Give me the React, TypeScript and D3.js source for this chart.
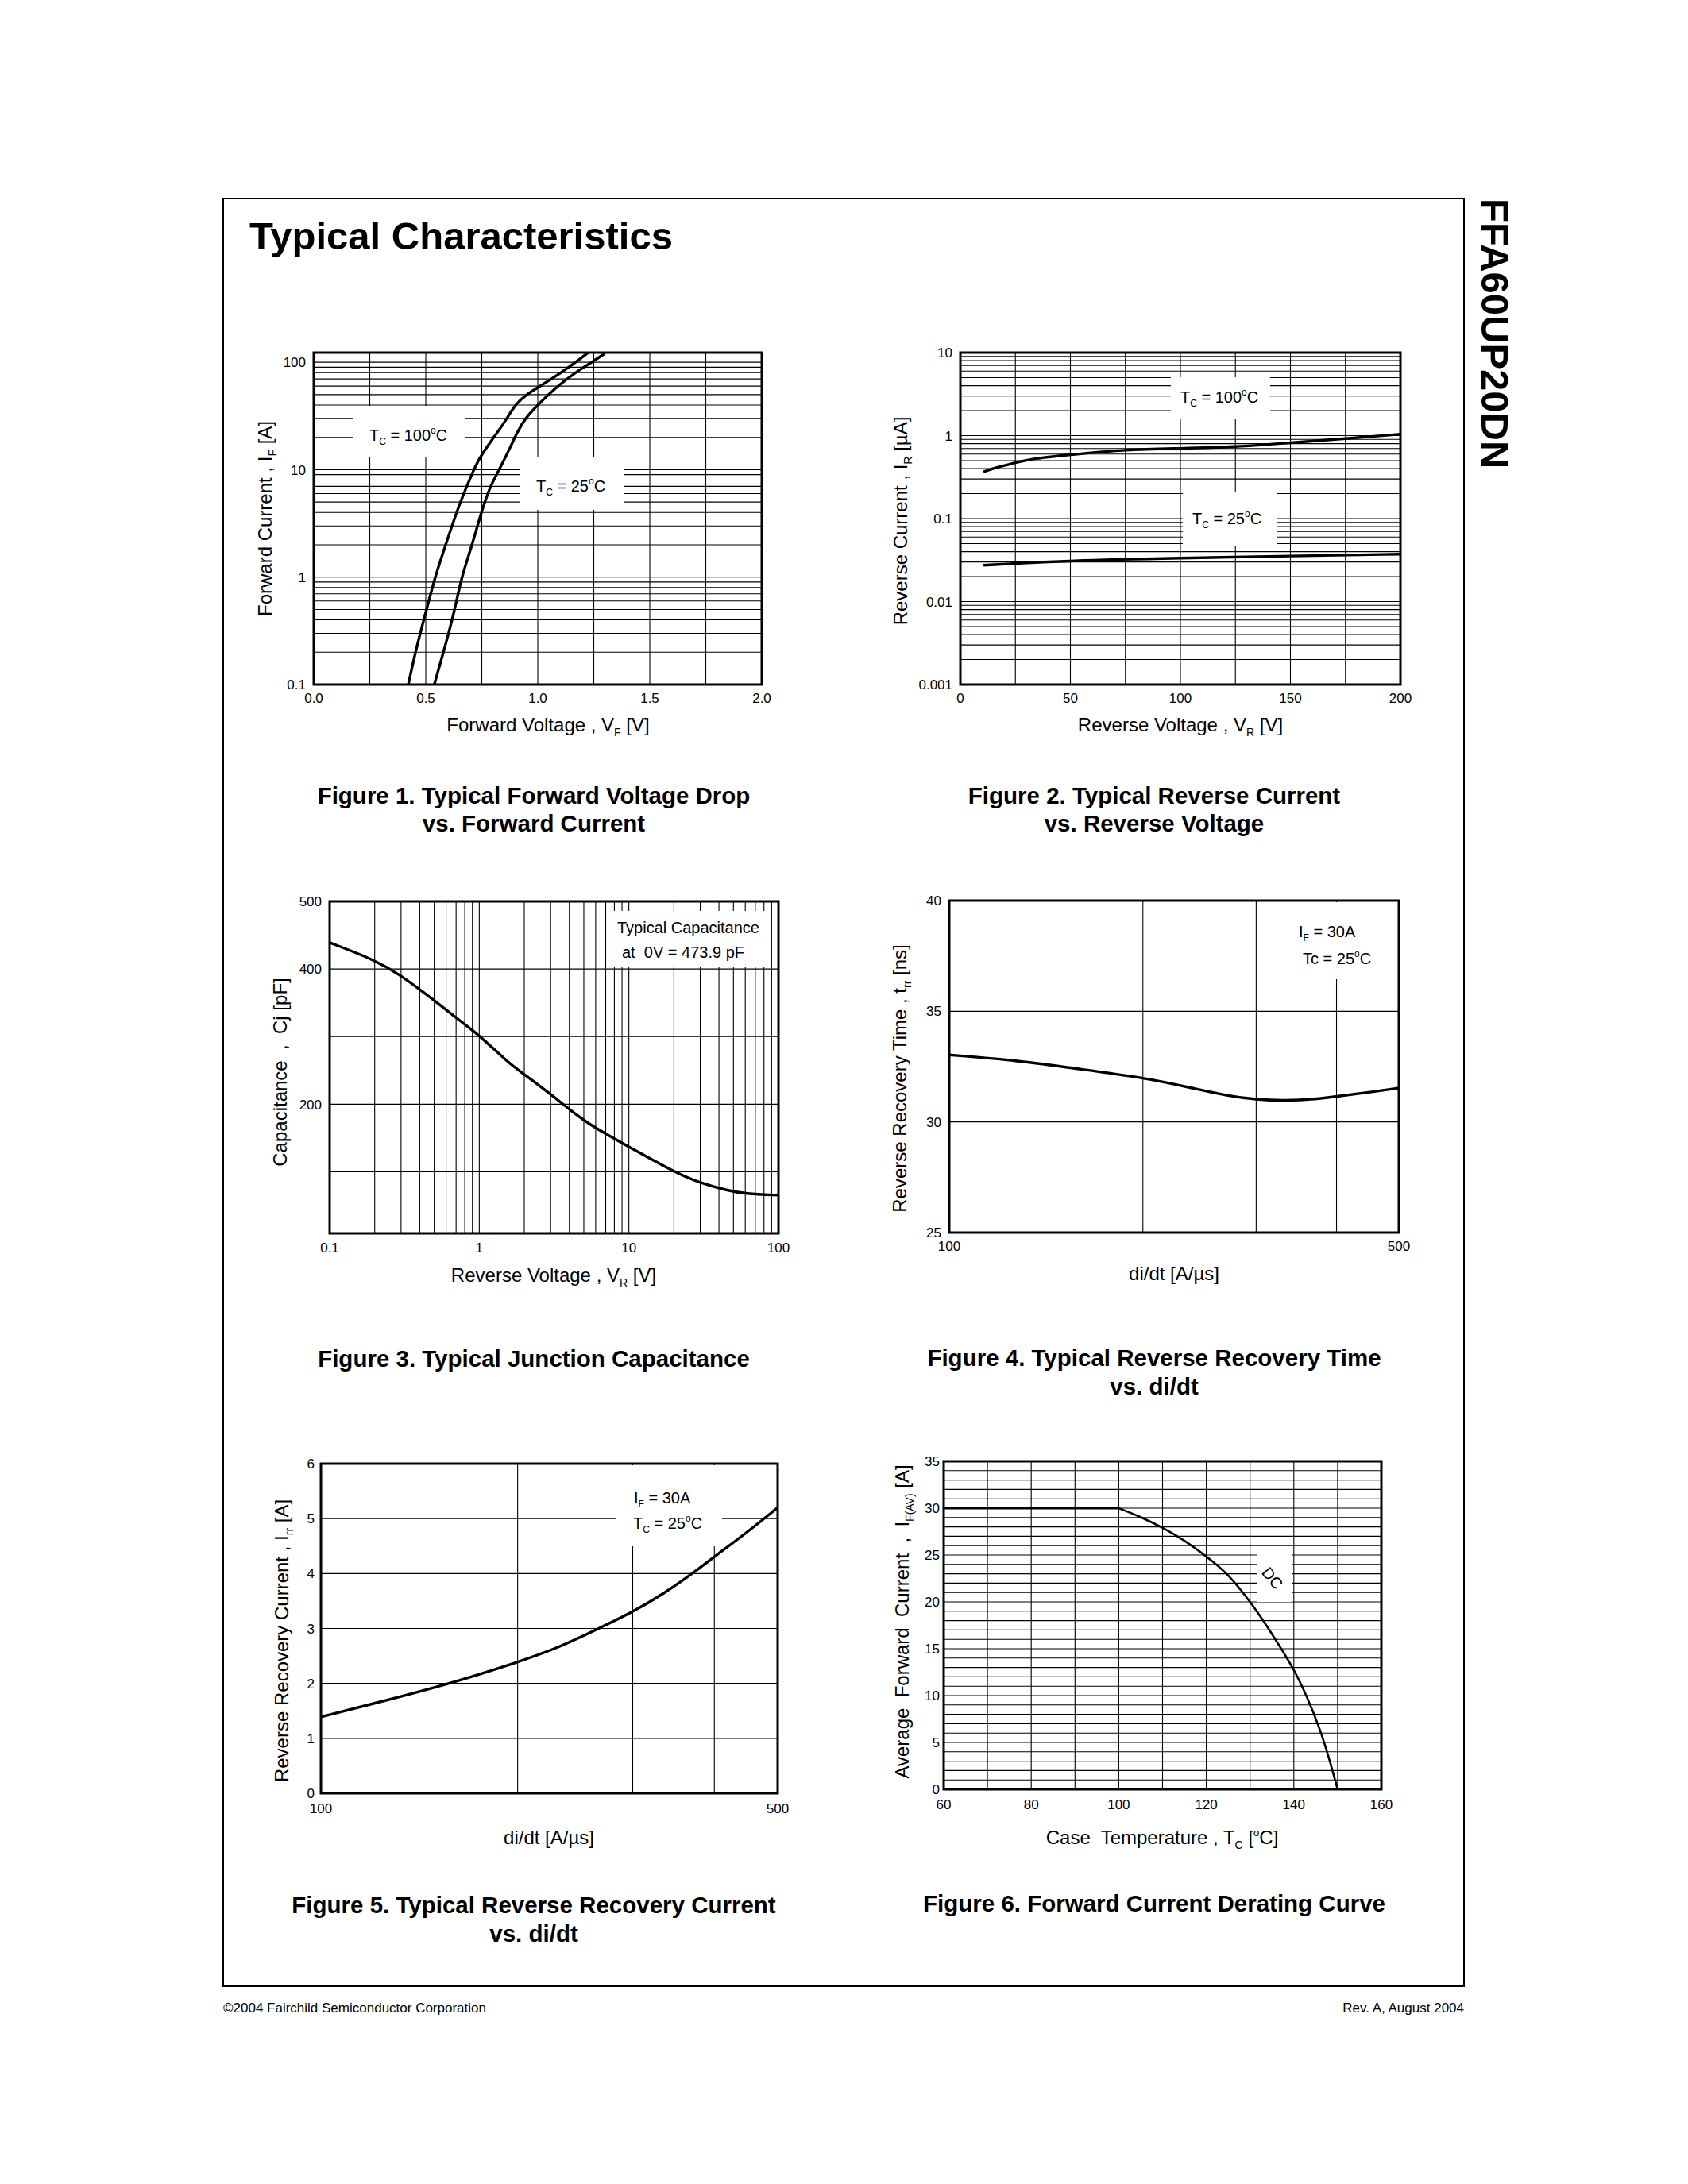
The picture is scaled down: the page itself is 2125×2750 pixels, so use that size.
import React from 'react';
import * as d3 from 'd3';

const FONT = "'Liberation Sans', Arial, Helvetica, sans-serif";

// ---------- Figure 1: forward voltage vs forward current ----------
const fig1XTicks = [0, 0.5, 1.0, 1.5, 2.0];
const fig1XTickLabels = ['0.0', '0.5', '1.0', '1.5', '2.0'];
const fig1XGrid = [0.25, 0.5, 0.75, 1.0, 1.25, 1.5, 1.75];
const fig1YTicks = [0.1, 1, 10, 100];
const fig1YTickLabels = ['0.1', '1', '10', '100'];
const fig1Tc100: [number, number][] = [
  [0.422, 0.1], [0.454, 0.204], [0.501, 0.477], [0.541, 1.0], [0.588, 1.98], [0.643, 4.39],
  [0.699, 8.43], [0.738, 12.9], [0.802, 19.8], [0.865, 30.3], [0.896, 39.8], [0.952, 50.6],
  [1.001, 58.2], [1.102, 79.6], [1.173, 101], [1.225, 123],
];
const fig1Tc25: [number, number][] = [
  [0.538, 0.1], [0.58, 0.204], [0.628, 0.477], [0.659, 1.0], [0.707, 1.98], [0.746, 3.92],
  [0.786, 6.92], [0.825, 9.73], [0.881, 16.7], [0.904, 21.5], [0.944, 30.3], [1.001, 40.3],
  [1.086, 59.8], [1.165, 79.6], [1.244, 101], [1.3, 121],
];

// ---------- Figure 2: reverse current vs reverse voltage ----------
const fig2XTicks = [0, 50, 100, 150, 200];
const fig2XGrid = [25, 50, 75, 100, 125, 150, 175];
const fig2YTicks = [0.001, 0.01, 0.1, 1, 10];
const fig2YTickLabels = ['0.001', '0.01', '0.1', '1', '10'];
const fig2Tc100: [number, number][] = [
  [10.5, 0.367], [16.9, 0.417], [25, 0.472], [33, 0.53], [50, 0.59], [75, 0.68],
  [100, 0.7], [125, 0.73], [150, 0.82], [175, 0.92], [200, 1.04],
];
const fig2Tc25: [number, number][] = [
  [10.5, 0.0274], [50, 0.0313], [100, 0.0334], [150, 0.0355], [200, 0.0373],
];

// ---------- Figure 3: junction capacitance ----------
const fig3XTicks = [0.1, 1, 10, 100];
const fig3XTickLabels = ['0.1', '1', '10', '100'];
const fig3YTicks = [200, 400, 500];
const fig3YGrid = [100, 200, 300, 400];
const fig3Cap: [number, number][] = [
  [0.1, 439], [0.2, 413.7], [0.3, 390.2], [0.395, 370.6], [0.505, 352.9], [0.76, 321.6],
  [1.0, 302], [1.54, 262.7], [1.97, 245.1], [2.97, 215.7], [4.01, 192.2], [5.71, 166.7],
  [10, 137.3], [20, 100], [29.3, 84.3], [45.4, 72.5], [59.6, 67.5], [100, 65.5],
];

// ---------- Figure 4: reverse recovery time vs di/dt ----------
const fig4XTicks = [100, 500];
const fig4XGrid = [200, 300, 400];
const fig4YTicks = [25, 30, 35, 40];
const fig4YGrid = [30, 35];
const fig4Trr: [number, number][] = [
  [100, 33.03], [126.8, 32.79], [155.2, 32.43], [200, 32.01], [238.8, 31.53], [271.2, 31.17],
  [300, 31.01], [332, 30.95], [372.3, 31.03], [400, 31.15], [450, 31.34], [500, 31.53],
];

// ---------- Figure 5: reverse recovery current vs di/dt ----------
const fig5XTicks = [100, 500];
const fig5XGrid = [200, 300, 400];
const fig5YTicks = [0, 1, 2, 3, 4, 5, 6];
const fig5YGrid = [1, 2, 3, 4, 5];
const fig5Irr: [number, number][] = [
  [100, 1.39], [120.1, 1.63], [156.2, 1.98], [200.5, 2.39], [230, 2.64], [267.2, 3.01],
  [300, 3.3], [334.5, 3.63], [374.3, 4.04], [400, 4.31], [445.7, 4.72], [500, 5.2],
];

// ---------- Figure 6: forward current derating ----------
const fig6XTicks = [60, 80, 100, 120, 140, 160];
const fig6XGrid = [70, 80, 90, 100, 110, 120, 130, 140, 150];
const fig6YTicks = [0, 5, 10, 15, 20, 25, 30, 35];
const fig6YGrid = d3.range(1, 35);
const fig6Flat: [number, number][] = [[60, 30], [100, 30]];
const fig6Derate: [number, number][] = [
  [100, 30], [105.1, 29.06], [110, 27.93], [115.2, 26.52], [120.1, 24.82], [125, 22.99],
  [130, 20.02], [133, 18.04], [137, 15.1], [140, 12.8], [142.8, 10.12], [146, 6.45],
  [148.4, 2.77], [150, 0],
];

type Pt = [number, number];

function Panel(props: {
  id: string;
  xs: any;
  ys: any;
  xGrid: number[];
  yGrid: number[];
  xTicks: number[];
  xLabels: string[];
  yTicks: number[];
  yLabels: string[];
  yTickX: number;
  xTickY: number;
  boxes: number[][];
  curves: { data: Pt[]; w: number; kind?: 'linear' | 'basis' | 'mono' }[];
  children?: React.ReactNode;
}) {
  const { id, xs, ys } = props;
  const [x0, x1] = xs.range();
  const [yb, yt] = ys.range();
  const mk = (kind?: string) =>
    d3
      .line<Pt>()
      .x((d) => xs(d[0]))
      .y((d) => ys(d[1]))
      .curve(kind === 'linear' ? d3.curveLinear : kind === 'basis' ? d3.curveBasis : d3.curveMonotoneX);
  return (
    <g>
      <clipPath id={id}>
        <rect x={x0} y={yt} width={x1 - x0} height={yb - yt} />
      </clipPath>
      {props.xGrid.map((v, i) => (
        <line key={'gx' + i} x1={xs(v)} x2={xs(v)} y1={yt} y2={yb} stroke="#000" strokeWidth={1.1} />
      ))}
      {props.yGrid.map((v, i) => (
        <line key={'gy' + i} x1={x0} x2={x1} y1={ys(v)} y2={ys(v)} stroke="#000" strokeWidth={1.1} />
      ))}
      {props.boxes.map((b, i) => (
        <rect key={'b' + i} x={b[0]} y={b[1]} width={b[2] - b[0]} height={b[3] - b[1]} fill="#fff" />
      ))}
      {props.curves.map((c, i) => (
        <path
          key={'c' + i}
          d={mk(c.kind)(c.data) || ''}
          fill="none"
          stroke="#000"
          strokeWidth={c.w}
          strokeLinejoin="round"
          clipPath={`url(#${id})`}
        />
      ))}
      <rect x={x0} y={yt} width={x1 - x0} height={yb - yt} fill="none" stroke="#000" strokeWidth={3} />
      {props.xTicks.map((v, i) => (
        <text key={'tx' + i} x={xs(v)} y={props.xTickY} textAnchor="middle" fontSize={17}>
          {props.xLabels[i]}
        </text>
      ))}
      {props.yTicks.map((v, i) => (
        <text key={'ty' + i} x={props.yTickX} y={ys(v)} dy="0.36em" textAnchor="end" fontSize={17}>
          {props.yLabels[i]}
        </text>
      ))}
      {props.children}
    </g>
  );
}

const Sub = ({ t, size = 14, dy = 6 }: { t: string; size?: number; dy?: number }) => (
  <tspan fontSize={size} dy={dy}>
    {t}
  </tspan>
);

function YTitle({ x, y, children }: { x: number; y: number; children: React.ReactNode }) {
  return (
    <text
      transform={`translate(${x},${y}) rotate(-90)`}
      textAnchor="middle"
      fontSize={24}
      style={{ whiteSpace: 'pre' }}
    >
      {children}
    </text>
  );
}

function XTitle({ x, y, children }: { x: number; y: number; children: React.ReactNode }) {
  return (
    <text x={x} y={y} textAnchor="middle" fontSize={24} style={{ whiteSpace: 'pre' }}>
      {children}
    </text>
  );
}

function Caption({ x, y, lines }: { x: number; y: number[]; lines: string[] }) {
  return (
    <g>
      {lines.map((l, i) => (
        <text key={i} x={x} y={y[i]} textAnchor="middle" fontSize={29.5} fontWeight="bold">
          {l}
        </text>
      ))}
    </g>
  );
}

function TcLabel({ x, y, temp }: { x: number; y: number; temp: string }) {
  return (
    <text x={x} y={y} fontSize={20}>
      T<tspan fontSize={12} dy={5}>C</tspan>
      <tspan dy={-5}>{' = ' + temp}</tspan>
      <tspan fontSize={12} dy={-9}>o</tspan>
      <tspan dy={9}>C</tspan>
    </text>
  );
}

export default function App() {
  // Figure 1
  const x1 = d3.scaleLinear([0, 2], [395, 959]);
  const y1 = d3.scaleLog([0.1, 123], [862, 444]);
  // Figure 2
  const x2 = d3.scaleLinear([0, 200], [1209, 1763]);
  const y2 = d3.scaleLog([0.001, 10], [862, 444]);
  // Figure 3
  const x3 = d3.scaleLog([0.1, 100], [415, 980]);
  const y3 = d3.scaleLinear([9, 500], [1553, 1135]);
  // Figure 4
  const x4 = d3.scaleLog([100, 500], [1195, 1761]);
  const y4 = d3.scaleLinear([25, 40], [1552, 1134]);
  // Figure 5
  const x5 = d3.scaleLog([100, 500], [404, 979]);
  const y5 = d3.scaleLinear([0, 6], [2258, 1843]);
  // Figure 6
  const x6 = d3.scaleLinear([60, 160], [1188, 1739]);
  const y6 = d3.scaleLinear([0, 35], [2253, 1840]);

  return (
    <svg
      width={2125}
      height={2750}
      viewBox="0 0 2125 2750"
      style={{ position: 'absolute', left: 0, top: 0, background: '#fff' }}
      fontFamily={FONT}
    >
      <rect x={0} y={0} width={2125} height={2750} fill="#fff" />
      <rect x={281} y={250} width={1562} height={2251} fill="none" stroke="#000" strokeWidth={2} />
      <text x={314} y={314} fontSize={49} fontWeight="bold">
        Typical Characteristics
      </text>
      <text transform="translate(1865,250) rotate(90)" fontSize={49} fontWeight="bold">
        FFA60UP20DN
      </text>

      {/* Figure 1 */}
      <Panel
        id="c1"
        xs={x1}
        ys={y1}
        xGrid={fig1XGrid}
        yGrid={y1.ticks()}
        xTicks={fig1XTicks}
        xLabels={fig1XTickLabels}
        yTicks={fig1YTicks}
        yLabels={fig1YTickLabels}
        yTickX={385}
        xTickY={885}
        boxes={[
          [445, 511, 585, 575],
          [655, 575, 785, 642],
        ]}
        curves={[
          { data: fig1Tc100, w: 3.4, kind: 'basis' },
          { data: fig1Tc25, w: 3.4, kind: 'basis' },
        ]}
      >
        <TcLabel x={465} y={555} temp="100" />
        <TcLabel x={675} y={619} temp="25" />
      </Panel>
      <XTitle x={690} y={921}>
        Forward Voltage , V<Sub t="F" />
        <tspan dy={-6}> [V]</tspan>
      </XTitle>
      <YTitle x={342} y={653}>
        Forward Current , I<Sub t="F" />
        <tspan dy={-6}> [A]</tspan>
      </YTitle>
      <Caption x={672} y={[1012, 1047]} lines={['Figure 1. Typical Forward Voltage Drop', 'vs. Forward Current']} />

      {/* Figure 2 */}
      <Panel
        id="c2"
        xs={x2}
        ys={y2}
        xGrid={fig2XGrid}
        yGrid={y2.ticks()}
        xTicks={fig2XTicks}
        xLabels={fig2XTicks.map(String)}
        yTicks={fig2YTicks}
        yLabels={fig2YTickLabels}
        yTickX={1199}
        xTickY={885}
        boxes={[
          [1474, 475, 1599, 527],
          [1489, 620, 1608, 687],
        ]}
        curves={[
          { data: fig2Tc100, w: 3.4, kind: 'basis' },
          { data: fig2Tc25, w: 3.4, kind: 'basis' },
        ]}
      >
        <TcLabel x={1486} y={507} temp="100" />
        <TcLabel x={1501} y={660} temp="25" />
      </Panel>
      <XTitle x={1486} y={921}>
        Reverse Voltage , V<Sub t="R" />
        <tspan dy={-6}> [V]</tspan>
      </XTitle>
      <YTitle x={1142} y={656}>
        Reverse Current , I<Sub t="R" />
        <tspan dy={-6}> [µA]</tspan>
      </YTitle>
      <Caption x={1453} y={[1012, 1047]} lines={['Figure 2. Typical Reverse Current', 'vs. Reverse Voltage']} />

      {/* Figure 3 */}
      <Panel
        id="c3"
        xs={x3}
        ys={y3}
        xGrid={x3.ticks()}
        yGrid={fig3YGrid}
        xTicks={fig3XTicks}
        xLabels={fig3XTickLabels}
        yTicks={fig3YTicks}
        yLabels={fig3YTicks.map(String)}
        yTickX={405}
        xTickY={1577}
        boxes={[[764, 1147, 969, 1218]]}
        curves={[{ data: fig3Cap, w: 3.4, kind: 'basis' }]}
      >
        <text x={777} y={1175} fontSize={20}>
          Typical Capacitance
        </text>
        <text x={783} y={1206} fontSize={20} style={{ whiteSpace: 'pre' }}>
          {'at  0V = 473.9 pF'}
        </text>
      </Panel>
      <XTitle x={697} y={1614}>
        Reverse Voltage , V<Sub t="R" />
        <tspan dy={-6}> [V]</tspan>
      </XTitle>
      <YTitle x={361} y={1350}>
        {'Capacitance  ,  Cj [pF]'}
      </YTitle>
      <Caption x={672} y={[1721]} lines={['Figure 3. Typical Junction Capacitance']} />

      {/* Figure 4 */}
      <Panel
        id="c4"
        xs={x4}
        ys={y4}
        xGrid={fig4XGrid}
        yGrid={fig4YGrid}
        xTicks={fig4XTicks}
        xLabels={fig4XTicks.map(String)}
        yTicks={fig4YTicks}
        yLabels={fig4YTicks.map(String)}
        yTickX={1185}
        xTickY={1575}
        boxes={[[1626, 1136, 1742, 1233]]}
        curves={[{ data: fig4Trr, w: 3.4, kind: 'basis' }]}
      >
        <text x={1635} y={1180} fontSize={20}>
          I<tspan fontSize={12} dy={5}>F</tspan>
          <tspan dy={-5}>{' = 30A'}</tspan>
        </text>
        <text x={1640} y={1214} fontSize={20}>
          {'Tc = 25'}
          <tspan fontSize={12} dy={-9}>o</tspan>
          <tspan dy={9}>C</tspan>
        </text>
      </Panel>
      <XTitle x={1478} y={1612}>
        di/dt [A/µs]
      </XTitle>
      <YTitle x={1141} y={1358}>
        {'Reverse Recovery Time , t'}
        <Sub t="rr" />
        <tspan dy={-6}> [ns]</tspan>
      </YTitle>
      <Caption x={1453} y={[1720, 1756]} lines={['Figure 4. Typical Reverse Recovery Time', 'vs. di/dt']} />

      {/* Figure 5 */}
      <Panel
        id="c5"
        xs={x5}
        ys={y5}
        xGrid={fig5XGrid}
        yGrid={fig5YGrid}
        xTicks={fig5XTicks}
        xLabels={fig5XTicks.map(String)}
        yTicks={fig5YTicks}
        yLabels={fig5YTicks.map(String)}
        yTickX={396}
        xTickY={2283}
        boxes={[[775, 1845, 909, 1947]]}
        curves={[{ data: fig5Irr, w: 3.4, kind: 'basis' }]}
      >
        <text x={798} y={1893} fontSize={20}>
          I<tspan fontSize={12} dy={5}>F</tspan>
          <tspan dy={-5}>{' = 30A'}</tspan>
        </text>
        <TcLabel x={797} y={1925} temp="25" />
      </Panel>
      <XTitle x={691} y={2322}>
        di/dt [A/µs]
      </XTitle>
      <YTitle x={363} y={2066}>
        {'Reverse Recovery Current , I'}
        <Sub t="rr" />
        <tspan dy={-6}> [A]</tspan>
      </YTitle>
      <Caption x={672} y={[2409, 2445]} lines={['Figure 5. Typical Reverse Recovery Current', 'vs. di/dt']} />

      {/* Figure 6 */}
      <Panel
        id="c6"
        xs={x6}
        ys={y6}
        xGrid={fig6XGrid}
        yGrid={fig6YGrid}
        xTicks={fig6XTicks}
        xLabels={fig6XTicks.map(String)}
        yTicks={fig6YTicks}
        yLabels={fig6YTicks.map(String)}
        yTickX={1183}
        xTickY={2278}
        boxes={[[1583, 1957, 1627, 2017]]}
        curves={[
          { data: fig6Flat, w: 3.2, kind: 'linear' },
          { data: fig6Derate, w: 2.6, kind: 'basis' },
        ]}
      >
        <text transform="translate(1602,1987) rotate(50)" textAnchor="middle" dy="0.36em" fontSize={20}>
          DC
        </text>
      </Panel>
      <XTitle x={1463} y={2322}>
        {'Case  Temperature , T'}
        <Sub t="C" />
        <tspan dy={-6}>{' ['}</tspan>
        <tspan fontSize={13} dy={-10}>o</tspan>
        <tspan dy={10}>C]</tspan>
      </XTitle>
      <YTitle x={1144} y={2042}>
        {'Average  Forward  Current  ,  I'}
        <Sub t="F(AV)" />
        <tspan dy={-6}> [A]</tspan>
      </YTitle>
      <Caption x={1453} y={[2407]} lines={['Figure 6. Forward Current Derating Curve']} />

      {/* Footer */}
      <text x={281} y={2534} fontSize={17}>
        ©2004 Fairchild Semiconductor Corporation
      </text>
      <text x={1843} y={2534} fontSize={17} textAnchor="end">
        Rev. A, August 2004
      </text>
    </svg>
  );
}
